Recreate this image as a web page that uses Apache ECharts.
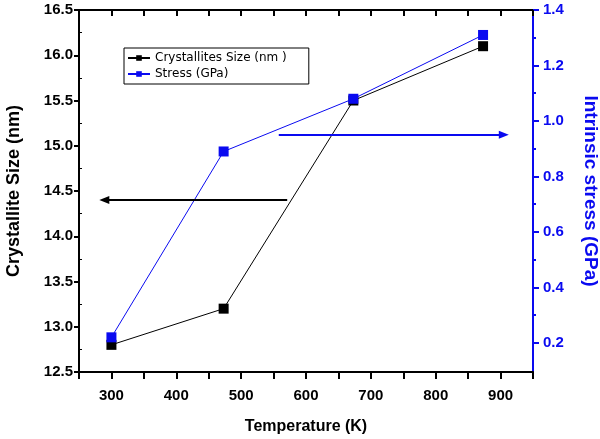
<!DOCTYPE html>
<html>
<head>
<meta charset="utf-8">
<script src="https://cdn.jsdelivr.net/npm/echarts@6/dist/echarts.min.js"></script>
<style>
html,body{margin:0;padding:0;background:#fff;}
#chart{width:600px;height:439px;}
</style>
</head>
<body>
<div id="chart"></div>
<script>
// Data
var temperatures = [300, 473, 673, 873];
var crystalliteSize = [12.8, 13.2, 15.5, 16.1];
var stress = [0.22, 0.89, 1.08, 1.31];
var leftTicks = [12.5, 13.0, 13.5, 14.0, 14.5, 15.0, 15.5, 16.0, 16.5];
var rightTicks = [0.2, 0.4, 0.6, 0.8, 1.0, 1.2, 1.4];
var rightMinorTicks = [0.3, 0.5, 0.7, 0.9, 1.1, 1.3];
var leftMinorTicks = [12.75, 13.25, 13.75, 14.25, 14.75, 15.25, 15.75, 16.25];
var sizeArrow = [[571, 14.4], [289, 14.4]];
var stressArrow = [[558, 0.95], [905, 0.95]];

var BLUE = '#0a0af0';
var FONT = 'Liberation Sans';

function pairs(xs, ys) { return xs.map(function (x, i) { return [x, ys[i]]; }); }

var chart = echarts.init(document.getElementById('chart'));
chart.setOption({
  animation: false,
  grid: { left: 79, right: 67, top: 10, bottom: 67, containLabel: false, outerBoundsMode: 'none' },
  legend: {
    left: 124, top: 48,
    orient: 'vertical',
    borderColor: '#000', borderWidth: 1,
    padding: [4, 22, 4, 3],
    itemGap: 4,
    itemWidth: 22, itemHeight: 7,
    textStyle: { fontFamily: 'DejaVu Sans', fontSize: 12, color: '#000' },
    data: ['Crystallites Size (nm )', 'Stress (GPa)']
  },
  xAxis: [{
    type: 'value', min: 250, max: 950, interval: 50, position: 'bottom',
    name: 'Temperature (K)', nameLocation: 'middle', nameGap: 47,
    nameTextStyle: { fontFamily: FONT, fontWeight: 'bold', fontSize: 16, color: '#000' },
    axisLine: { lineStyle: { color: '#000', width: 2 } },
    axisTick: { inside: false, length: 7, lineStyle: { color: '#000', width: 2 } },
    axisLabel: { margin: 16, fontFamily: FONT, fontWeight: 'bold', fontSize: 15, color: '#000',
      formatter: function (v) { return v % 100 === 0 ? String(v) : ''; } },
    splitLine: { show: false }
  }, {
    type: 'value', min: 250, max: 950, interval: 50, position: 'top',
    axisLine: { lineStyle: { color: '#000', width: 2 } },
    axisTick: { inside: true, length: 6, lineStyle: { color: '#000', width: 2 } },
    axisLabel: { show: false },
    splitLine: { show: false }
  }],
  yAxis: [{
    type: 'value', min: 12.5, max: 16.5, position: 'left',
    name: 'Crystallite Size (nm)', nameLocation: 'middle', nameGap: 56,
    nameTextStyle: { fontFamily: FONT, fontWeight: 'bold', fontSize: 18, color: '#000' },
    axisLine: { lineStyle: { color: '#000', width: 2 } },
    axisTick: { inside: false, length: 5, customValues: leftTicks, lineStyle: { color: '#000', width: 2 } },
    axisLabel: { margin: 6, customValues: leftTicks, fontFamily: FONT, fontWeight: 'bold', fontSize: 15, color: '#000',
      formatter: function (v) { return v.toFixed(1); } },
    splitLine: { show: false }
  }, {
    type: 'value', min: 0.095, max: 1.4, position: 'right',
    name: 'Intrinsic stress (GPa)', nameLocation: 'middle', nameGap: 48, nameRotate: -90,
    nameTextStyle: { fontFamily: FONT, fontWeight: 'bold', fontSize: 19, color: BLUE },
    axisLine: { lineStyle: { color: BLUE, width: 2 } },
    axisTick: { inside: false, length: 6, customValues: rightTicks, lineStyle: { color: BLUE, width: 2 } },
    axisLabel: { margin: 10, customValues: rightTicks, fontFamily: FONT, fontWeight: 'bold', fontSize: 15, color: BLUE,
      formatter: function (v) { return v.toFixed(1); } },
    splitLine: { show: false }
  }, {
    type: 'value', min: 0.095, max: 1.4, position: 'right',
    axisLine: { show: false },
    axisTick: { inside: false, length: 3, customValues: rightMinorTicks, lineStyle: { color: BLUE, width: 2 } },
    axisLabel: { show: false, customValues: rightMinorTicks },
    splitLine: { show: false }
  }, {
    type: 'value', min: 12.5, max: 16.5, position: 'left',
    axisLine: { show: false },
    axisTick: { inside: true, length: 3, customValues: leftMinorTicks, lineStyle: { color: '#000', width: 1 } },
    axisLabel: { show: false, customValues: leftMinorTicks },
    splitLine: { show: false }
  }],
  series: [{
    name: 'Crystallites Size (nm )', type: 'line', xAxisIndex: 0, yAxisIndex: 0,
    data: pairs(temperatures, crystalliteSize),
    symbol: 'rect', symbolSize: 10,
    lineStyle: { color: '#000', width: 1 },
    itemStyle: { color: '#000' },
    z: 2,
    markLine: {
      silent: true, symbol: ['none', 'triangle'], symbolSize: [8, 10],
      label: { show: false },
      lineStyle: { color: '#000', width: 2, type: 'solid' },
      data: [[{ coord: sizeArrow[0] }, { coord: sizeArrow[1] }]]
    }
  }, {
    name: 'Stress (GPa)', type: 'line', xAxisIndex: 0, yAxisIndex: 1,
    data: pairs(temperatures, stress),
    symbol: 'rect', symbolSize: 10,
    lineStyle: { color: BLUE, width: 1 },
    itemStyle: { color: BLUE },
    z: 3,
    markLine: {
      silent: true, symbol: ['none', 'triangle'], symbolSize: [8, 10],
      label: { show: false },
      lineStyle: { color: BLUE, width: 2, type: 'solid' },
      data: [[{ coord: stressArrow[0] }, { coord: stressArrow[1] }]]
    }
  }]
});
</script>
</body>
</html>
